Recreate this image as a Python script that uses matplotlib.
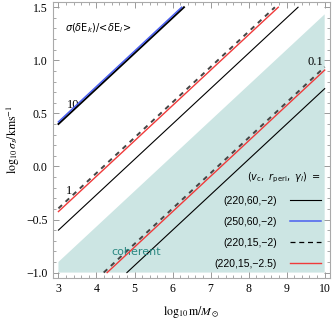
import numpy as np
import matplotlib
matplotlib.use('Agg')
import matplotlib.pyplot as plt
from matplotlib.ticker import MultipleLocator
from matplotlib.lines import Line2D

# sigma(dE_k)/<dE_l> curves, endpoints (log10 m, log10 sigma_s)
m_10_black = [3.0, 6.30]
s_10_black = [0.40, 1.50]
m_10_blue = [3.0, 6.24]
s_10_blue = [0.42, 1.50]

m_1_dash = [3.0, 8.69]
s_1_dash = [-0.395, 1.50]
m_1_red = [3.0, 8.78]
s_1_red = [-0.425, 1.50]
m_1_black = [3.0, 9.30]
s_1_black = [-0.60, 1.50]

m_01_dash = [4.19, 10.0]
s_01_dash = [-1.0, 0.937]
m_01_red = [4.28, 10.0]
s_01_red = [-1.0, 0.908]
m_01_black = [4.80, 10.0]
s_01_black = [-1.0, 0.733]

# coherent region (shaded)
coh_m = [3.0, 3.0, 10.0, 10.0]
coh_s = [-1.0, -0.9, 1.433, -1.0]

legend_labels = ['(220,60,\u22122)', '(250,60,\u22122)', '(220,15,\u22122)', '(220,15,\u22122.5)']

plt.rcParams['font.family'] = ['DejaVu Sans']
plt.rcParams['axes.unicode_minus'] = True

fig = plt.figure(figsize=(3.32, 3.22), dpi=100)
ax = fig.add_axes([0.16, 0.137, 0.834, 0.857])

ax.fill(coh_m, coh_s, color='#cce5e3', lw=0, zorder=0)

ax.plot(m_10_black, s_10_black, color='black', lw=1.4, zorder=3)
ax.plot(m_10_blue, s_10_blue, color='#4a5ff0', lw=1.1, zorder=4)

ax.plot(m_1_black, s_1_black, color='black', lw=0.8, zorder=3)
ax.plot(m_1_dash, s_1_dash, color='#444444', lw=1.4, ls=(0, (2.5, 2.5)), zorder=3)
ax.plot(m_1_red, s_1_red, color='#f03a3a', lw=1.0, zorder=4)

ax.plot(m_01_black, s_01_black, color='black', lw=0.8, zorder=3)
ax.plot(m_01_dash, s_01_dash, color='#444444', lw=1.4, ls=(0, (2.5, 2.5)), zorder=3)
ax.plot(m_01_red, s_01_red, color='#f03a3a', lw=1.0, zorder=4)

ax.text(3.38, 0.58, '10', family='Liberation Serif', fontsize=9, ha='center', va='center')
ax.text(3.28, -0.23, '1', family='Liberation Serif', fontsize=9, ha='center', va='center')
ax.text(9.76, 0.98, '0.1', family='Liberation Serif', fontsize=9, ha='center', va='center')
ax.text(3.16, 1.30, r'$\sigma(\delta{\rm E}_k)/\!<\!\delta{\rm E}_l\!>$', fontsize=7,
        va='center')
ax.text(4.4, -0.81, 'coherent', color='#2a8882', fontsize=8, va='center')

handles = [Line2D([], [], color='black', lw=0.8),
           Line2D([], [], color='#4a5ff0', lw=1.1),
           Line2D([], [], color='black', lw=0.9, ls=(0, (4, 3))),
           Line2D([], [], color='#f03a3a', lw=1.0)]
leg = ax.legend(handles, legend_labels, loc='lower right', bbox_to_anchor=(1.0, 0.0),
                frameon=False, markerfirst=False, handlelength=2.9,
                labelspacing=1.05, handletextpad=1.3, alignment='right',
                prop={'family': 'Liberation Sans', 'size': 7.5},
                title=r'$(v_{\rm c},\ r_{\rm peri},\ \gamma_l)\ =$',
                title_fontsize=7)

ax.set_xlim(2.86, 10.14)
ax.set_ylim(-1.05, 1.55)
ax.xaxis.set_major_locator(MultipleLocator(1))
ax.xaxis.set_minor_locator(MultipleLocator(0.2))
ax.yaxis.set_major_locator(MultipleLocator(0.5))
ax.yaxis.set_minor_locator(MultipleLocator(0.1))
ax.tick_params(which='both', direction='in', top=True, right=True, color='#999999',
               labelsize=8.5, pad=4)
ax.tick_params(which='major', length=4.5, width=0.7)
ax.tick_params(which='minor', length=2.5, width=0.6)
for lab in ax.get_xticklabels() + ax.get_yticklabels():
    lab.set_family('Liberation Serif')
for sp in ax.spines.values():
    sp.set_color('#aaaaaa')
    sp.set_linewidth(0.8)

ax.set_xlabel(r'$\log_{10}{\rm m}/M_\odot$', fontsize=8.5, math_fontfamily='stix', labelpad=6)
ax.set_ylabel(r'$\log_{10}\sigma_s/{\rm kms}^{-1}$', fontsize=8.5, math_fontfamily='stix',
              labelpad=3)

fig.savefig('out.png', dpi=100)
